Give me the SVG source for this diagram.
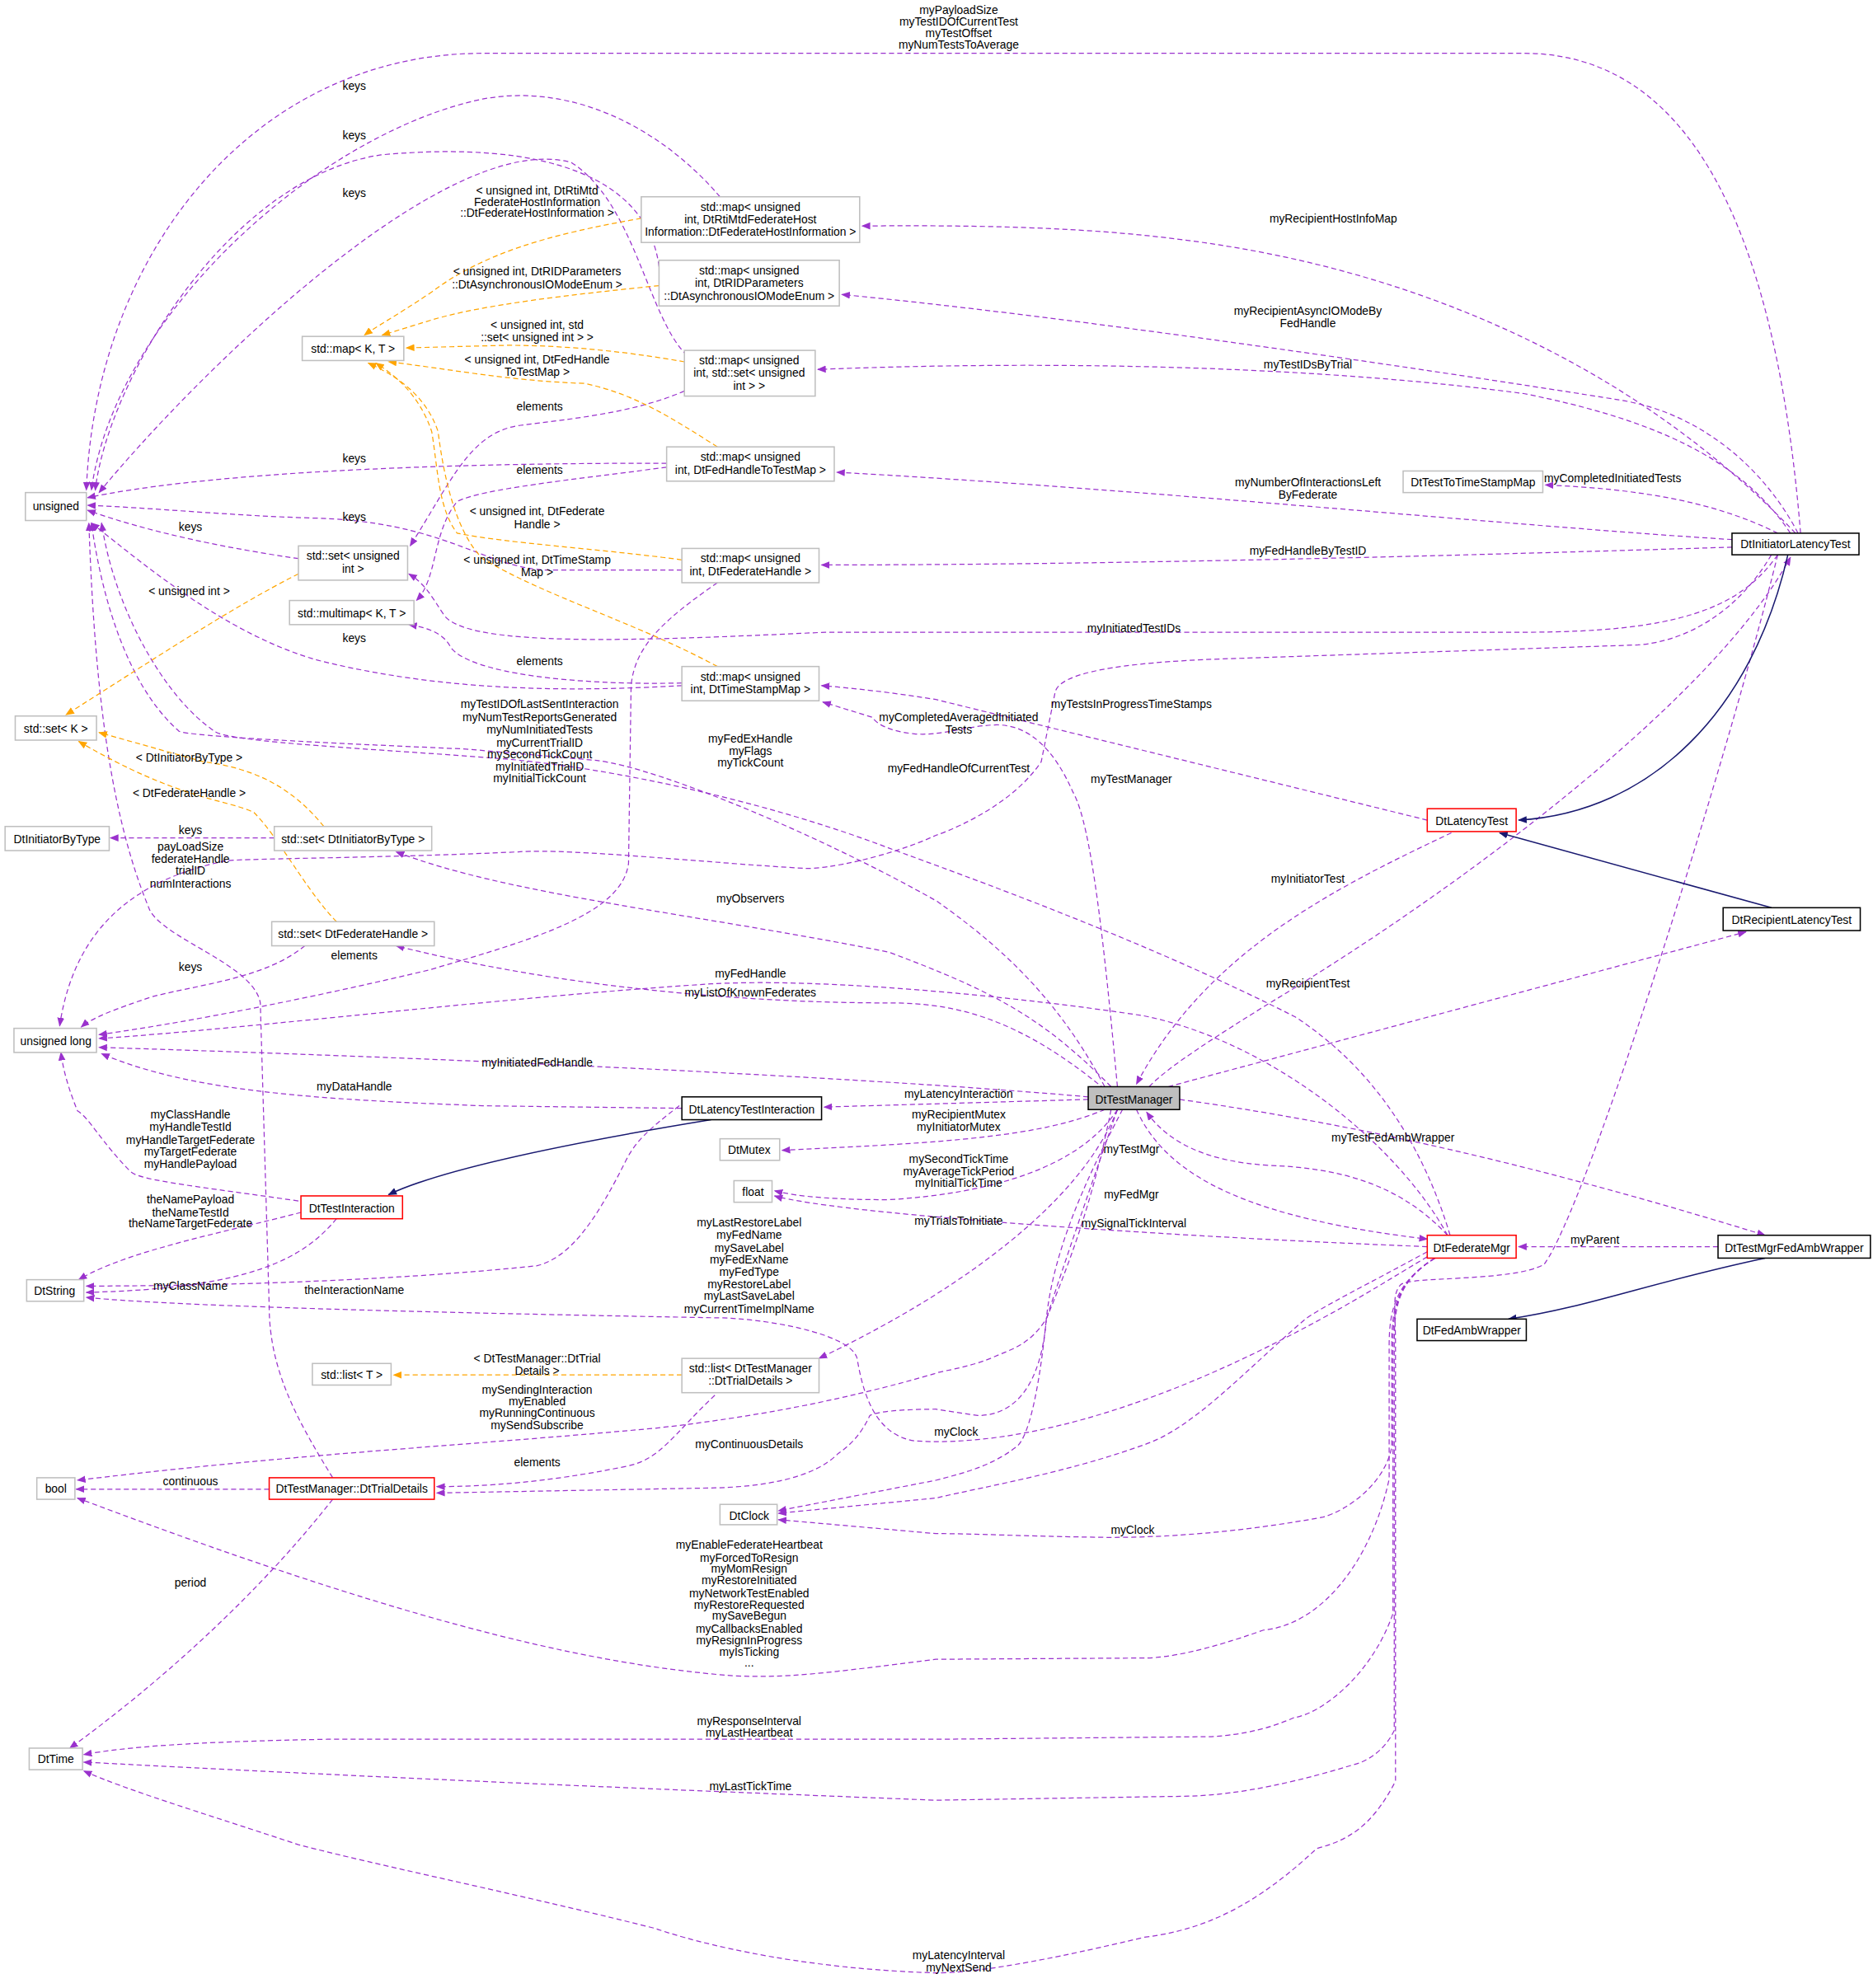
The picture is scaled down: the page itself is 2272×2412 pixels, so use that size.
<svg xmlns="http://www.w3.org/2000/svg" width="2272" height="2412" viewBox="0 0 2272 2412">
<defs>
<style>
text{font-family:"Liberation Sans",Arial,sans-serif;font-size:9px;text-anchor:middle;fill:#000}
.n rect{fill:#fff;stroke:#bfbfbf;stroke-width:1}
.b rect{stroke:#000}
.r rect{stroke:#ff0000}
.g rect{fill:#bfbfbf;stroke:#000}
.e{fill:none;stroke:#9a32cd;stroke-width:0.8;stroke-dasharray:4,2.5;marker-end:url(#pa)}
.o{fill:none;stroke:#ffa500;stroke-width:0.8;stroke-dasharray:4,2.5;marker-end:url(#po)}
.i{fill:none;stroke:#191970;stroke-width:1;marker-end:url(#pi)}
</style>
<marker id="pa" viewBox="0 0 10 10" refX="9" refY="5" markerWidth="7" markerHeight="7" markerUnits="userSpaceOnUse" orient="auto"><path d="M0,1L10,5L0,9z" fill="#9a32cd"/></marker>
<marker id="po" viewBox="0 0 10 10" refX="9" refY="5" markerWidth="7" markerHeight="7" markerUnits="userSpaceOnUse" orient="auto"><path d="M0,1L10,5L0,9z" fill="#ffa500"/></marker>
<marker id="pi" viewBox="0 0 10 10" refX="9" refY="5" markerWidth="7" markerHeight="7" markerUnits="userSpaceOnUse" orient="auto"><path d="M0,1L10,5L0,9z" fill="#191970"/></marker>
</defs>
<rect width="2272" height="2412" fill="#fff"/>
<g transform="scale(1.5403)">
<g id="connectors">
<path class="e" d="M1418,420 C1400,200 1340,42 1200,42 L380,42 C200,42 75,200 68,386"/>
<path class="e" d="M567,155 C520,100 450,65 380,78 C250,105 90,250 72,386"/>
<path class="e" d="M519,210 C510,140 430,110 300,122 C180,140 85,300 75,386"/>
<path class="e" d="M541,280 C510,250 500,160 450,128 C350,100 150,300 78,388"/>
<path class="e" d="M525,365 L480,365 C300,366 150,375 69,392"/>
<path class="e" d="M235,440 C180,432 120,420 69,402"/>
<path class="e" d="M537,449 L430,449 C380,447 350,410 244,408 C180,406 120,400 69,398"/>
<path class="e" d="M537,540 C450,545 350,545 250,520 C180,500 120,450 72,412"/>
<path class="e" d="M539,308 C500,325 450,330 410,335 C370,340 355,380 323,430"/>
<path class="e" d="M525,368 C450,378 380,385 360,395 C340,420 345,455 328,473"/>
<path class="e" d="M537,538 C450,540 370,530 355,510 C350,500 340,495 322,492"/>
<path class="e" d="M565,459 C520,490 500,510 497,540 L495,680 C490,720 420,740 338,764 C250,785 150,805 78,815"/>
<path class="e" d="M1400,420 C1350,395 1290,385 1217,382"/>
<path class="e" d="M1414,420 C1300,300 1150,230 1000,200 C900,180 800,177 679,178"/>
<path class="e" d="M1416,420 C1390,370 1340,325 1275,315 C1150,295 850,250 663,232"/>
<path class="e" d="M1410,420 C1370,360 1300,330 1200,310 C1050,290 850,283 644,291"/>
<path class="e" d="M1364,425 C1200,415 900,385 659,372"/>
<path class="e" d="M1364,431 C1200,436 900,445 647,445"/>
<path class="e" d="M1400,437 C1370,480 1320,498 1200,498 L650,498 C500,505 370,510 350,485 C340,470 335,460 322,452"/>
<path class="e" d="M1395,437 C1370,480 1330,505 1290,508 L963,519 C880,522 835,530 831,545 L820,600 C800,630 760,650 737,658 C700,675 650,685 634,684 C560,680 450,668 408,671 C300,676 200,676 178,678 C120,690 60,720 47,808"/>
<path class="e" d="M870,856 C830,780 780,740 738,710 C650,660 520,605 470,599 L367,590 C250,585 150,580 141,576 C100,540 80,470 72,412"/>
<path class="e" d="M1142,973 C1120,900 1080,840 1020,801 C900,740 760,690 700,668 C600,630 480,605 400,598 C300,590 180,585 169,576 C130,550 90,480 80,412"/>
<path class="e" d="M880,856 C870,750 860,650 845,624 C830,590 810,570 783,571 C760,572 740,580 720,578 C700,576 690,570 687,565 L648,553"/>
<path class="e" d="M1124,646 L737,551 C700,545 670,542 647,540"/>
<path class="e" d="M1143,656 C1050,700 950,750 895,854"/>
<path class="e" d="M905,856 C920,840 960,815 1000,790 C1150,700 1350,550 1410,439"/>
<path class="e" d="M920,856 L1375,734"/>
<path class="e" d="M875,856 C820,800 780,780 700,750 C550,720 400,705 312,671"/>
<path class="e" d="M870,858 C800,800 750,790 700,790 C600,790 450,780 312,745"/>
<path class="e" d="M1140,973 C1100,900 1000,820 900,800 C800,785 650,770 560,775 C400,785 200,810 78,818"/>
<path class="e" d="M857,864 C700,850 400,835 78,825"/>
<path class="e" d="M537,873 L380,871 C250,866 150,860 80,830"/>
<path class="e" d="M857,866 L649,872"/>
<path class="e" d="M870,874 C820,895 750,900 616,906"/>
<path class="e" d="M880,874 C850,920 780,940 700,945 C660,945 630,943 610,938"/>
<path class="e" d="M1124,982 C950,975 800,965 700,955 C650,950 620,945 610,942"/>
<path class="e" d="M895,874 C920,930 990,960 1124,976"/>
<path class="e" d="M1140,973 C1100,930 1050,920 1000,918 C950,915 920,900 903,876"/>
<path class="e" d="M929,866 C1100,890 1250,930 1390,973"/>
<path class="e" d="M1353,982 L1196,982"/>
<path class="e" d="M1124,990 C1090,1010 1060,1030 1000,1060 C900,1110 800,1140 720,1135 C690,1130 680,1100 675,1070 C670,1050 600,1038 563,1038 C400,1035 150,1030 68,1022"/>
<path class="e" d="M237,955 C180,970 100,985 62,1008"/>
<path class="e" d="M265,960 C240,990 200,1015 68,1018"/>
<path class="e" d="M535,871 C510,890 500,900 493,914 C470,960 450,990 423,997 C300,1010 150,1013 68,1013"/>
<path class="e" d="M235,946 C160,935 110,930 103,923 C80,900 70,880 61,875 C55,860 50,845 48,829"/>
<path class="e" d="M262,1164 C235,1120 212,1080 212,1029 L205,790 C200,760 130,740 118,717 C90,650 75,560 70,412"/>
<path class="e" d="M880,874 C850,950 750,1020 645,1070"/>
<path class="o" d="M537,1083 L310,1083"/>
<path class="e" d="M563,1099 C530,1130 520,1150 493,1155 C430,1168 380,1171 344,1171"/>
<path class="e" d="M884,874 C860,920 830,980 824,1039 C820,1090 800,1115 770,1115 L737,1110 C710,1110 690,1112 685,1115 C678,1130 670,1138 660,1145 C640,1165 600,1171 563,1172 L344,1176"/>
<path class="e" d="M875,874 C860,950 840,1000 824,1039 C810,1060 798,1062 780,1070 C760,1078 740,1080 736,1082 C640,1110 560,1120 516,1125 C350,1140 235,1145 61,1166"/>
<path class="e" d="M212,1173 L60,1173"/>
<path class="e" d="M262,1181 C200,1260 120,1330 55,1377"/>
<path class="e" d="M1130,991 C1100,1010 1094,1030 1094,1060 L1094,1165 C1080,1230 1040,1280 995,1284 C950,1300 920,1306 901,1306 L737,1307 C650,1318 620,1322 577,1320 C450,1310 300,1270 61,1180"/>
<path class="e" d="M880,874 C850,960 830,1020 824,1039 C820,1080 812,1132 800,1140 C780,1155 760,1160 737,1166 L613,1190"/>
<path class="e" d="M1124,986 C1080,1010 1040,1030 1028,1039 C980,1080 940,1125 901,1138 C840,1160 780,1170 737,1180 L613,1192"/>
<path class="e" d="M1130,991 C1100,1010 1096,1030 1096,1060 L1096,1140 C1090,1170 1060,1190 1042,1195 C960,1210 900,1211 873,1211 C800,1210 770,1208 737,1208 L613,1197"/>
<path class="e" d="M1130,991 C1100,1010 1097,1030 1097,1060 L1097,1271 C1080,1320 1040,1350 1019,1353 C990,1366 960,1368 948,1368 L737,1370 L258,1370 C150,1372 100,1376 66,1382"/>
<path class="e" d="M1130,991 C1100,1010 1098,1030 1098,1060 L1098,1363 C1090,1380 1075,1388 1066,1390 C1000,1410 960,1415 925,1415 L737,1418 C400,1405 200,1395 66,1388"/>
<path class="e" d="M1400,437 C1360,600 1250,950 1216,996 C1190,1010 1110,1005 1103,1012 C1096,1020 1099,1030 1099,1060 L1099,1403 C1080,1440 1060,1450 1037,1456 C990,1500 950,1520 901,1526 C800,1550 760,1554 737,1554 C600,1550 516,1519 516,1519 C400,1490 300,1470 235,1453 C150,1425 100,1410 66,1395"/>
<path class="o" d="M505,172 C430,185 380,200 340,230 C310,250 295,258 287,264"/>
<path class="o" d="M519,225 C450,232 380,240 340,252 L301,264"/>
<path class="o" d="M539,285 C500,278 450,272 400,272 L320,274"/>
<path class="o" d="M565,352 C530,330 500,310 460,302 C400,300 350,290 306,285"/>
<path class="o" d="M537,441 C470,432 400,428 360,420 C345,400 345,370 340,340 C330,310 310,295 296,286"/>
<path class="o" d="M565,525 C500,490 430,470 380,440 C360,420 350,380 345,340 C335,310 310,295 290,286"/>
<path class="o" d="M235,452 C180,480 120,520 52,563"/>
<path class="o" d="M255,651 C230,620 200,605 160,600 L78,577"/>
<path class="o" d="M265,726 C240,700 220,660 200,640 C180,630 140,630 62,584"/>
<path class="e" d="M216,660 L87,660"/>
<path class="e" d="M240,745 C210,770 160,775 120,785 C90,795 72,802 64,809"/>
<path class="i" d="M1395,715 L1181,656"/>
<path class="i" d="M1408,437 C1380,560 1300,640 1196,646"/>
<path class="i" d="M560,882 C450,900 350,920 306,941"/>
<path class="i" d="M1390,991 C1300,1010 1250,1030 1188,1039"/>
</g>
<g id="labels">
<text x="755" y="11">myPayloadSize</text><text x="755" y="20">myTestIDOfCurrentTest</text><text x="755" y="29">myTestOffset</text><text x="755" y="38">myNumTestsToAverage</text>
<text x="279" y="71">keys</text><text x="279" y="110">keys</text><text x="279" y="155">keys</text>
<text x="423" y="153">&lt; unsigned int, DtRtiMtd</text><text x="423" y="162">FederateHostInformation</text><text x="423" y="171">::DtFederateHostInformation &gt;</text>
<text x="423" y="217">&lt; unsigned int, DtRIDParameters</text><text x="423" y="227">::DtAsynchronousIOModeEnum &gt;</text>
<text x="423" y="259">&lt; unsigned int, std</text><text x="423" y="269">::set&lt; unsigned int &gt; &gt;</text>
<text x="423" y="286">&lt; unsigned int, DtFedHandle</text><text x="423" y="296">ToTestMap &gt;</text>
<text x="425" y="323">elements</text><text x="425" y="373">elements</text><text x="279" y="364">keys</text>
<text x="423" y="406">&lt; unsigned int, DtFederate</text><text x="423" y="416">Handle &gt;</text>
<text x="279" y="410">keys</text><text x="150" y="418">keys</text>
<text x="423" y="444">&lt; unsigned int, DtTimeStamp</text><text x="423" y="454">Map &gt;</text>
<text x="149" y="469">&lt; unsigned int &gt;</text>
<text x="279" y="506">keys</text><text x="425" y="524">elements</text>
<text x="425" y="558">myTestIDOfLastSentInteraction</text><text x="425" y="568">myNumTestReportsGenerated</text><text x="425" y="578">myNumInitiatedTests</text><text x="425" y="588">myCurrentTrialID</text><text x="425" y="597">mySecondTickCount</text><text x="425" y="607">myInitiatedTrialID</text><text x="425" y="616">myInitialTickCount</text>
<text x="591" y="585">myFedExHandle</text><text x="591" y="595">myFlags</text><text x="591" y="604">myTickCount</text>
<text x="755" y="568">myCompletedAveragedInitiated</text><text x="755" y="578">Tests</text>
<text x="755" y="608">myFedHandleOfCurrentTest</text>
<text x="149" y="600">&lt; DtInitiatorByType &gt;</text><text x="149" y="628">&lt; DtFederateHandle &gt;</text>
<text x="150" y="657">keys</text>
<text x="150" y="670">payLoadSize</text><text x="150" y="680">federateHandle</text><text x="150" y="689">trialID</text><text x="150" y="699">numInteractions</text>
<text x="591" y="711">myObservers</text><text x="279" y="756">elements</text><text x="150" y="765">keys</text>
<text x="591" y="770">myFedHandle</text><text x="591" y="785">myListOfKnownFederates</text>
<text x="423" y="840">myInitiatedFedHandle</text><text x="279" y="859">myDataHandle</text>
<text x="150" y="881">myClassHandle</text><text x="150" y="891">myHandleTestId</text><text x="150" y="901">myHandleTargetFederate</text><text x="150" y="910">myTargetFederate</text><text x="150" y="920">myHandlePayload</text>
<text x="150" y="948">theNamePayload</text><text x="150" y="958">theNameTestId</text><text x="150" y="967">theNameTargetFederate</text>
<text x="150" y="1016">myClassName</text><text x="279" y="1019">theInteractionName</text>
<text x="590" y="966">myLastRestoreLabel</text><text x="590" y="976">myFedName</text><text x="590" y="986">mySaveLabel</text><text x="590" y="995">myFedExName</text><text x="590" y="1005">myFedType</text><text x="590" y="1015">myRestoreLabel</text><text x="590" y="1024">myLastSaveLabel</text><text x="590" y="1034">myCurrentTimeImplName</text>
<text x="755" y="865">myLatencyInteraction</text>
<text x="755" y="881">myRecipientMutex</text><text x="755" y="891">myInitiatorMutex</text>
<text x="755" y="916">mySecondTickTime</text><text x="755" y="926">myAverageTickPeriod</text><text x="755" y="935">myInitialTickTime</text>
<text x="755" y="965">myTrialsToInitiate</text><text x="893" y="967">mySignalTickInterval</text>
<text x="891" y="908">myTestMgr</text><text x="891" y="944">myFedMgr</text><text x="1097" y="899">myTestFedAmbWrapper</text><text x="1256" y="980">myParent</text>
<text x="1050" y="175">myRecipientHostInfoMap</text>
<text x="1030" y="248">myRecipientAsyncIOModeBy</text><text x="1030" y="258">FedHandle</text>
<text x="1030" y="290">myTestIDsByTrial</text>
<text x="1030" y="383">myNumberOfInteractionsLeft</text><text x="1030" y="393">ByFederate</text>
<text x="1270" y="380">myCompletedInitiatedTests</text>
<text x="1030" y="437">myFedHandleByTestID</text>
<text x="893" y="498">myInitiatedTestIDs</text>
<text x="891" y="558">myTestsInProgressTimeStamps</text>
<text x="891" y="617">myTestManager</text><text x="1030" y="695">myInitiatorTest</text><text x="1030" y="778">myRecipientTest</text>
<text x="423" y="1073">&lt; DtTestManager::DtTrial</text><text x="423" y="1083">Details &gt;</text>
<text x="423" y="1098">mySendingInteraction</text><text x="423" y="1107">myEnabled</text><text x="423" y="1116">myRunningContinuous</text><text x="423" y="1126">mySendSubscribe</text>
<text x="590" y="1141">myContinuousDetails</text><text x="423" y="1155">elements</text>
<text x="150" y="1170">continuous</text><text x="753" y="1131">myClock</text><text x="892" y="1208">myClock</text>
<text x="150" y="1250">period</text>
<text x="590" y="1220">myEnableFederateHeartbeat</text><text x="590" y="1230">myForcedToResign</text><text x="590" y="1239">myMomResign</text><text x="590" y="1248">myRestoreInitiated</text><text x="590" y="1258">myNetworkTestEnabled</text><text x="590" y="1267">myRestoreRequested</text><text x="590" y="1276">mySaveBegun</text><text x="590" y="1286">myCallbacksEnabled</text><text x="590" y="1295">myResignInProgress</text><text x="590" y="1304">myIsTicking</text><text x="590" y="1313">...</text>
<text x="590" y="1359">myResponseInterval</text><text x="590" y="1368">myLastHeartbeat</text>
<text x="591" y="1410">myLastTickTime</text>
<text x="755" y="1543">myLatencyInterval</text><text x="755" y="1553">myNextSend</text>
</g>
<g id="unsigned" class="n"><rect x="20" y="388" width="48" height="22"/><text x="44" y="402">unsigned</text></g>
<g id="mapKT" class="n"><rect x="238" y="265" width="80" height="19"/><text x="278" y="278">std::map&lt; K, T &gt;</text></g>
<g id="mapRtiMtd" class="n"><rect x="505" y="155" width="172" height="36"/><text x="591" y="166">std::map&lt; unsigned</text><text x="591" y="176">int, DtRtiMtdFederateHost</text><text x="591" y="186">Information::DtFederateHostInformation &gt;</text></g>
<g id="mapRID" class="n"><rect x="519" y="205" width="142" height="36"/><text x="590" y="216">std::map&lt; unsigned</text><text x="590" y="226">int, DtRIDParameters</text><text x="590" y="236">::DtAsynchronousIOModeEnum &gt;</text></g>
<g id="mapSet" class="n"><rect x="539" y="276" width="103" height="36"/><text x="590" y="287">std::map&lt; unsigned</text><text x="590" y="297">int, std::set&lt; unsigned</text><text x="590" y="307">int &gt; &gt;</text></g>
<g id="mapFHTTM" class="n"><rect x="525" y="352" width="132" height="27"/><text x="591" y="363">std::map&lt; unsigned</text><text x="591" y="373">int, DtFedHandleToTestMap &gt;</text></g>
<g id="setUInt" class="n"><rect x="235" y="430" width="86" height="27"/><text x="278" y="441">std::set&lt; unsigned</text><text x="278" y="451">int &gt;</text></g>
<g id="mapFH" class="n"><rect x="537" y="432" width="108" height="27"/><text x="591" y="443">std::map&lt; unsigned</text><text x="591" y="453">int, DtFederateHandle &gt;</text></g>
<g id="multimap" class="n"><rect x="228" y="473" width="98" height="19"/><text x="277" y="486">std::multimap&lt; K, T &gt;</text></g>
<g id="mapTSM" class="n"><rect x="537" y="525" width="108" height="27"/><text x="591" y="536">std::map&lt; unsigned</text><text x="591" y="546">int, DtTimeStampMap &gt;</text></g>
<g id="DtTestToTimeStampMap" class="n"><rect x="1105" y="371" width="110" height="17"/><text x="1160" y="383">DtTestToTimeStampMap</text></g>
<g id="DtInitiatorLatencyTest" class="n b"><rect x="1364" y="420" width="100" height="17"/><text x="1414" y="432">DtInitiatorLatencyTest</text></g>
<g id="setK" class="n"><rect x="12" y="564" width="64" height="19"/><text x="44" y="577">std::set&lt; K &gt;</text></g>
<g id="DtInitiatorByType" class="n"><rect x="4" y="651" width="82" height="19"/><text x="45" y="664">DtInitiatorByType</text></g>
<g id="setIBT" class="n"><rect x="216" y="651" width="124" height="19"/><text x="278" y="664">std::set&lt; DtInitiatorByType &gt;</text></g>
<g id="setFH" class="n"><rect x="214" y="726" width="128" height="19"/><text x="278" y="739">std::set&lt; DtFederateHandle &gt;</text></g>
<g id="unsignedLong" class="n"><rect x="11" y="810" width="65" height="19"/><text x="44" y="823">unsigned long</text></g>
<g id="DtLatencyTest" class="n r"><rect x="1124" y="637" width="70" height="18"/><text x="1159" y="650">DtLatencyTest</text></g>
<g id="DtRecipientLatencyTest" class="n b"><rect x="1357" y="715" width="108" height="18"/><text x="1411" y="728">DtRecipientLatencyTest</text></g>
<g id="DtTestManager" class="n g"><rect x="857" y="856" width="72" height="18"/><text x="893" y="869">DtTestManager</text></g>
<g id="DtLatencyTestInteraction" class="n b"><rect x="537" y="864" width="110" height="18"/><text x="592" y="877">DtLatencyTestInteraction</text></g>
<g id="DtMutex" class="n"><rect x="567" y="897" width="47" height="17"/><text x="590" y="909">DtMutex</text></g>
<g id="float" class="n"><rect x="578" y="930" width="30" height="17"/><text x="593" y="942">float</text></g>
<g id="DtTestInteraction" class="n r"><rect x="237" y="942" width="80" height="18"/><text x="277" y="955">DtTestInteraction</text></g>
<g id="DtString" class="n"><rect x="21" y="1008" width="45" height="17"/><text x="43" y="1020">DtString</text></g>
<g id="DtFederateMgr" class="n r"><rect x="1124" y="973" width="70" height="18"/><text x="1159" y="986">DtFederateMgr</text></g>
<g id="DtTestMgrFedAmbWrapper" class="n b"><rect x="1353" y="973" width="120" height="18"/><text x="1413" y="986">DtTestMgrFedAmbWrapper</text></g>
<g id="DtFedAmbWrapper" class="n b"><rect x="1116" y="1039" width="86" height="17"/><text x="1159" y="1051">DtFedAmbWrapper</text></g>
<g id="listT" class="n"><rect x="246" y="1074" width="62" height="17"/><text x="277" y="1086">std::list&lt; T &gt;</text></g>
<g id="listTD" class="n"><rect x="537" y="1070" width="108" height="27"/><text x="591" y="1081">std::list&lt; DtTestManager</text><text x="591" y="1091">::DtTrialDetails &gt;</text></g>
<g id="bool" class="n"><rect x="29" y="1164" width="30" height="17"/><text x="44" y="1176">bool</text></g>
<g id="DtTrialDetails" class="n r"><rect x="212" y="1164" width="130" height="17"/><text x="277" y="1176">DtTestManager::DtTrialDetails</text></g>
<g id="DtClock" class="n"><rect x="567" y="1185" width="45" height="16"/><text x="590" y="1197">DtClock</text></g>
<g id="DtTime" class="n"><rect x="23" y="1377" width="42" height="17"/><text x="44" y="1389">DtTime</text></g>
</g>
</svg>
